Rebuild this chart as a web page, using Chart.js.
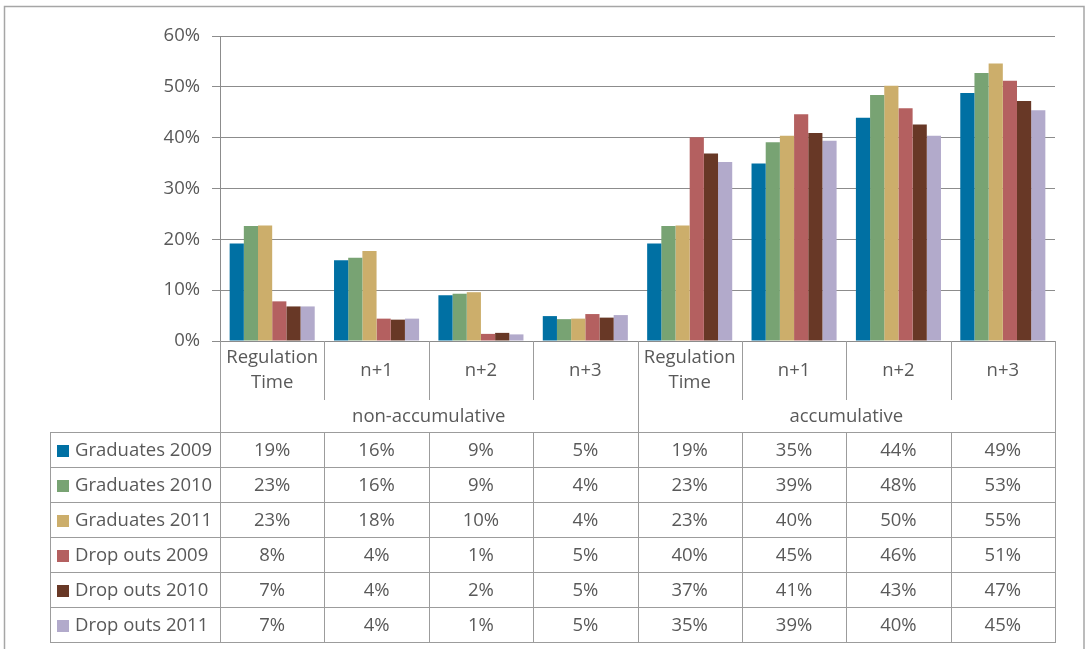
<!DOCTYPE html>
<html>
<head>
<meta charset="utf-8">
<script src="https://cdn.jsdelivr.net/npm/chart.js@4.4.0/dist/chart.umd.min.js"></script>
<style>
  html, body { margin: 0; padding: 0; background: #fff; }
  #wrap { width: 1086px; height: 649px; }
</style>
</head>
<body>
<div id="wrap"><canvas id="myChart" width="1086" height="649"></canvas></div>
<script>
// values, in percent
const categories = [['Regulation', 'Time'], 'n+1', 'n+2', 'n+3', ['Regulation', 'Time'], 'n+1', 'n+2', 'n+3'];
const groupLabels = ['non-accumulative', 'accumulative'];
const seriesNames = ['Graduates 2009', 'Graduates 2010', 'Graduates 2011', 'Drop outs 2009', 'Drop outs 2010', 'Drop outs 2011'];
const graduates2009 = [19.2, 15.9, 9.0, 4.9, 19.2, 34.9, 43.9, 48.8];
const graduates2010 = [22.6, 16.4, 9.3, 4.3, 22.6, 39.1, 48.4, 52.7];
const graduates2011 = [22.7, 17.7, 9.6, 4.4, 22.7, 40.4, 50.2, 54.6];
const dropouts2009 = [7.8, 4.4, 1.4, 5.3, 40.1, 44.6, 45.8, 51.2];
const dropouts2010 = [6.8, 4.2, 1.6, 4.6, 36.9, 40.9, 42.6, 47.2];
const dropouts2011 = [6.8, 4.4, 1.3, 5.1, 35.2, 39.4, 40.4, 45.4];
const yTicks = [0, 10, 20, 30, 40, 50, 60];

const colors = ['#0070a3', '#78a373', '#ccae6b', '#b46060', '#683826', '#b2aacb'];
const textColor = '#595959';
const font = '"Open Sans", sans-serif';
const fontSize = 18.5;

const tablePlugin = {
  id: 'tablePlugin',
  beforeDraw(chart) {
    const ctx = chart.ctx;
    ctx.save();
    ctx.strokeStyle = '#a6a6a6';
    ctx.lineWidth = 1.5;
    ctx.beginPath();
    ctx.moveTo(4.5, 660);
    ctx.lineTo(4.5, 6.5);
    ctx.lineTo(1084, 6.5);
    ctx.lineTo(1084, 660);
    ctx.stroke();
    ctx.restore();
  },
  afterDraw(chart) {
    const ctx = chart.ctx;
    const area = chart.chartArea;
    const xs = chart.scales.x;
    const n = categories.length;
    const colW = (area.right - area.left) / n;
    const edges = [];
    for (let i = 0; i <= n; i++) edges.push(xs.getPixelForValue(0) - colW / 2 + i * colW);
    const top = area.bottom;
    const headBottom = top + 59;
    const groupBottom = top + 91;
    const rowH = 35;
    const tableLeft = 50;
    const datasets = chart.data.datasets;
    const tableBottom = groupBottom + rowH * datasets.length;

    ctx.save();
    ctx.strokeStyle = '#9c9c9c';
    ctx.lineWidth = 1;
    ctx.beginPath();
    // outer verticals of the category part
    ctx.moveTo(Math.round(edges[0]) + 0.5, top);
    ctx.lineTo(Math.round(edges[0]) + 0.5, tableBottom);
    ctx.moveTo(Math.round(edges[n]) + 0.5, top);
    ctx.lineTo(Math.round(edges[n]) + 0.5, tableBottom);
    ctx.moveTo(Math.round(edges[n / 2]) + 0.5, top);
    ctx.lineTo(Math.round(edges[n / 2]) + 0.5, tableBottom);
    for (let i = 1; i < n; i++) {
      if (i === n / 2) continue;
      const px = Math.round(edges[i]) + 0.5;
      ctx.moveTo(px, top);
      ctx.lineTo(px, headBottom);
      ctx.moveTo(px, groupBottom);
      ctx.lineTo(px, tableBottom);
    }
    ctx.moveTo(tableLeft + 0.5, groupBottom);
    ctx.lineTo(tableLeft + 0.5, tableBottom);
    for (let r = 0; r <= datasets.length; r++) {
      const py = groupBottom + r * rowH + 0.5;
      ctx.moveTo(tableLeft, py);
      ctx.lineTo(edges[n] + 1, py);
    }
    ctx.stroke();

    ctx.fillStyle = textColor;
    ctx.font = fontSize + 'px ' + font;
    ctx.textAlign = 'center';
    ctx.textBaseline = 'middle';
    categories.forEach((c, i) => {
      const cx = (edges[i] + edges[i + 1]) / 2;
      if (Array.isArray(c)) {
        ctx.fillText(c[0], cx, top + 17);
        ctx.fillText(c[1], cx, top + 42);
      } else {
        ctx.fillText(c, cx, top + 30);
      }
    });
    groupLabels.forEach((g, k) => {
      const cx = (edges[k * n / 2] + edges[(k + 1) * n / 2]) / 2;
      ctx.fillText(g, cx, (headBottom + groupBottom) / 2 + 1);
    });
    datasets.forEach((ds, r) => {
      const cy = groupBottom + r * rowH + rowH / 2 + 1;
      ctx.textAlign = 'left';
      ctx.fillStyle = ds.backgroundColor;
      ctx.fillRect(57, Math.round(cy - 6), 12, 12);
      ctx.fillStyle = textColor;
      ctx.fillText(ds.label, 75, cy);
      ctx.textAlign = 'center';
      ds.data.forEach((v, i) => {
        ctx.fillText(Math.round(v) + '%', (edges[i] + edges[i + 1]) / 2, cy);
      });
    });
    ctx.restore();
  }
};

const allSeries = [graduates2009, graduates2010, graduates2011, dropouts2009, dropouts2010, dropouts2011];

new Chart(document.getElementById('myChart'), {
  type: 'bar',
  data: {
    labels: categories,
    datasets: allSeries.map((d, i) => ({
      label: seriesNames[i],
      data: d,
      backgroundColor: colors[i],
      categoryPercentage: 0.815,
      barPercentage: 1.0
    }))
  },
  options: {
    responsive: false,
    animation: false,
    layout: { padding: { left: 0, right: 31, top: 36, bottom: 308 } },
    plugins: {
      legend: { display: false },
      tooltip: { enabled: false }
    },
    scales: {
      x: { display: false, offset: true },
      y: {
        min: 0,
        max: 60,
        afterBuildTicks(scale) { scale.ticks = yTicks.map(v => ({ value: v })); },
        afterFit(scale) { scale.width = 220; },
        grid: { color: '#8c8c8c', tickLength: 8, lineWidth: 1 },
        border: { color: '#8c8c8c' },
        ticks: {
          color: textColor,
          padding: 12,
          font: { family: font, size: fontSize },
          callback: v => v + '%'
        }
      }
    }
  },
  plugins: [tablePlugin]
});
</script>
</body>
</html>
